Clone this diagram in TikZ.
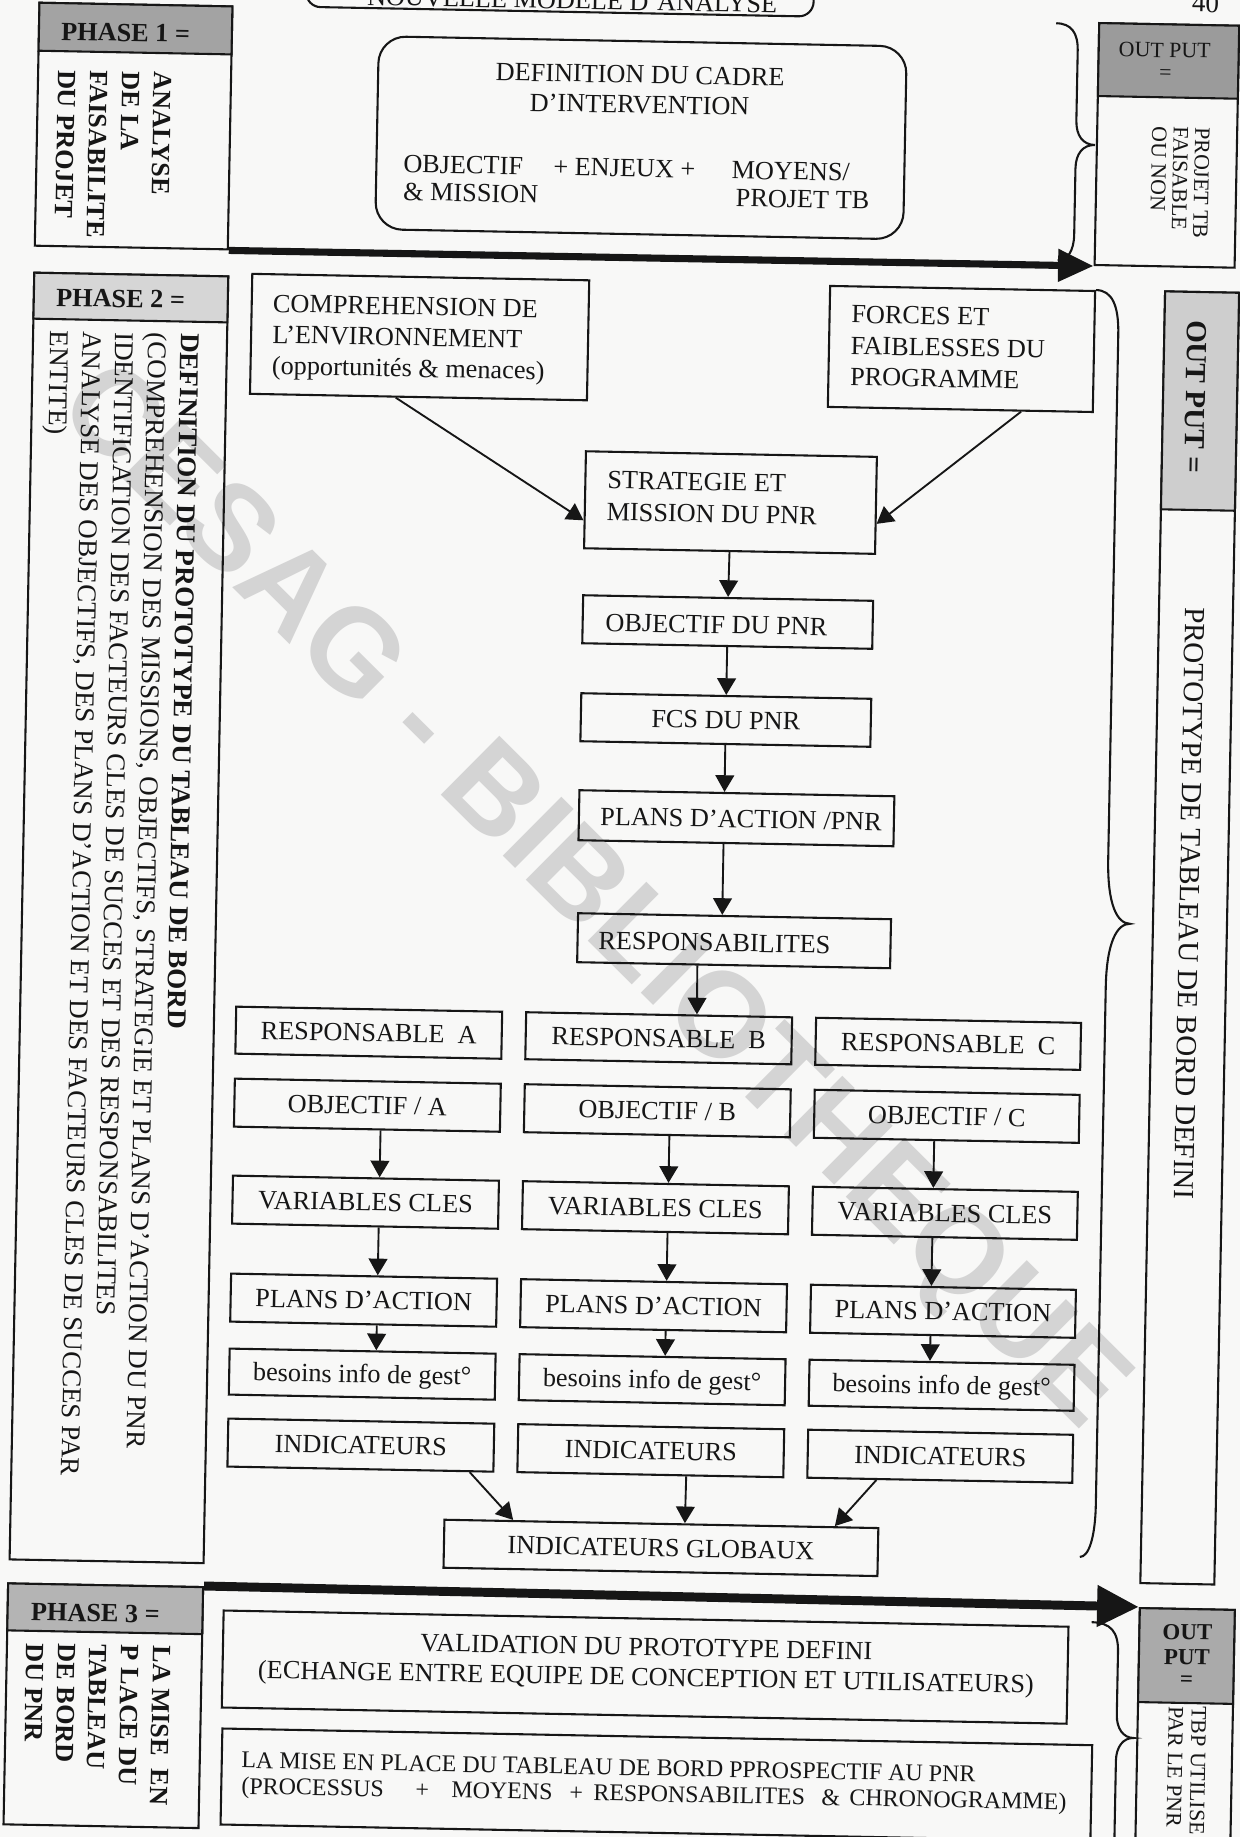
\documentclass[tikz,border=0pt]{standalone}
\usepackage{fontspec}
\setmainfont{Liberation Serif}
\newfontfamily\wmfont{Liberation Sans}
\usetikzlibrary{arrows.meta,calc}

\definecolor{paper}{RGB}{248,248,247}
\definecolor{ink}{RGB}{22,22,22}
\definecolor{hdone}{RGB}{163,163,163}
\definecolor{outone}{RGB}{155,155,155}
\definecolor{hdtwo}{RGB}{214,214,214}
\definecolor{outtwo}{RGB}{206,206,206}
\definecolor{hdthree}{RGB}{180,180,180}
\definecolor{outthree}{RGB}{170,170,170}
\definecolor{wmgray}{RGB}{212,212,212}

\newcommand\fs{\fontsize{12.6}{15}\selectfont}
\newcommand\fsc{\fontsize{13}{15}\selectfont}
\newcommand\fsm{\fontsize{11.5}{14}\selectfont}
\newcommand\fss{\fontsize{10.5}{12}\selectfont}
\newcommand\fsl{\fontsize{14}{16}\selectfont}

% box node given by its corners: [options]{name}{x1}{y1}{x2}{y2}{text}
\newcommand\cbox[7][]{%
  \node[frame,#1,minimum width={(#5-#3)*0.48pt},minimum height={(#6-#4)*0.48pt}]
    (#2) at ({(#3+#5)/2},{(#4+#6)/2}) {#7};}

\begin{document}
\begin{tikzpicture}[x=0.48pt,y=-0.48pt,
  frame/.style={draw=ink,line width=1pt,inner sep=0pt,font=\fs,text=ink,
                text height=8.3pt,text depth=0pt},
  txt/.style={inner sep=0pt,font=\fs,text=ink},
  vtxt/.style={txt,rotate=-90,anchor=base west},
  arr/.style={draw=ink,line width=0.9pt,-{Triangle[length=8pt,width=9pt]}},
  phaseone/.style={draw=ink,line width=3.4pt,-{Triangle[length=17pt,width=15pt]}},
  phasethree/.style={draw=ink,line width=4.3pt,-{Triangle[length=20pt,width=19pt]}},
  brace/.style={draw=ink,line width=1pt}]

\useasboundingbox (0,0) rectangle (1240,1837);
\fill[paper] (0,0) rectangle (1240,1837);
\clip (0,0) rectangle (1240,1837);

% library stamp across the page
\node[inner sep=0pt,font=\wmfont\bfseries\fontsize{58}{60}\selectfont,text=wmgray,rotate=-44.8]
  (stamp) at (590,900) {CESAG - BIBLIOTHEQUE};

\begin{scope}[rotate around={-1.1:(620,918)},transform shape]

% page head
\draw[ink,line width=1pt,rounded corners=7pt] (288.5,-60) -- (288.5,13) -- (796,13) -- (796,-60);
\node[txt,anchor=base east] (headline) at (760,10) {NOUVELLE MODELE D’ANALYSE};
\node[txt,anchor=base,font=\fontsize{13}{15}\selectfont] (folio) at (1188,1) {40};

% ---------------- phase 1
\cbox{p1}{22}{14}{215}{257}{}
\cbox[fill=hdone]{p1h}{22}{14}{215}{62}{}
\node[txt,anchor=base west,font=\fs\bfseries] (p1t) at (44,51) {PHASE 1 =};
\foreach \t [count=\i] in {ANALYSE,DE LA,FAISABILITE,DU PROJET}
  \node[vtxt,font=\fs\bfseries] (p1l\i) at ({138.2-(\i-1)*32},80.5) {\t};

\cbox[rounded corners=13pt]{def}{362}{41}{890}{234}{}
\node[txt,anchor=base] (def1) at (624,83) {DEFINITION DU CADRE};
\node[txt,anchor=base] (def2) at (624,113) {D’INTERVENTION};
\node[txt,anchor=base west] (def3) at (388.6,176.6) {OBJECTIF};
\node[txt,anchor=base west] (def4) at (538.6,176.6) {+ ENJEUX +};
\node[txt,anchor=base west] (def5) at (717,176.6) {MOYENS/};
\node[txt,anchor=base west] (def6) at (389,204.6) {\& MISSION};
\node[txt,anchor=base west] (def7) at (721.6,204.6) {PROJET TB};

\cbox{o1}{1082}{14}{1222}{256}{}
\cbox[fill=outone]{o1h}{1082}{14}{1222}{87}{}
\node[txt,anchor=base,font=\fss] (o1t) at (1148,47) {OUT PUT};
\node[txt,font=\fss] (o1e) at (1149,64) {=};
\foreach \t [count=\i] in {PROJET TB,FAISABLE,OU NON}
  \node[vtxt,font=\fss] (o1l\i) at ({1180-(\i-1)*21.5},116) {\t};

\draw[phaseone] (p1.south east) -- (o1.south west);
\draw[brace] (1039,15) .. controls (1054,15) and (1061,24) .. (1061,42) -- (1061,112)
  .. controls (1061,127) and (1068,136) .. (1080,136)
  .. controls (1068,136) and (1061,145) .. (1061,160) -- (1061,226)
  .. controls (1061,242) and (1055,252) .. (1045,252);

% ---------------- phase 2
\cbox{p2}{22}{284}{216}{1571}{}
\cbox[fill=hdtwo]{p2h}{22}{284}{216}{330}{}
\node[txt,anchor=base west,font=\fs\bfseries] (p2t) at (44,317) {PHASE 2 =};
\node[vtxt,font=\fsc\bfseries] (p2l1) at (170,341.4) {DEFINITION DU PROTOTYPE DU TABLEAU DE BORD};
\foreach \t [count=\i from 2] in
  {{(COMPREHENSION DES MISSIONS, OBJECTIFS, STRATEGIE ET PLANS D’ACTION DU PNR},
   {IDENTIFICATION DES FACTEURS CLES DE SUCCES ET DES RESPONSABILITES},
   {ANALYSE DES OBJECTIFS, DES PLANS D’ACTION ET DES FACTEURS CLES DE SUCCES PAR},
   {ENTITE)}}
  \node[vtxt,font=\fsc] (p2l\i) at ({170-(\i-1)*32.6},341.4) {\t};

\cbox{comp}{240}{281}{577}{401}{}
\node[txt,anchor=base west] (comp1) at (261,319) {COMPREHENSION DE};
\node[txt,anchor=base west] (comp2) at (261,350) {L’ENVIRONNEMENT};
\node[txt,anchor=base west] (comp3) at (261,381) {(opportunités \& menaces)};

\cbox{forces}{818}{282}{1083}{403}{}
\node[txt,anchor=base west] (forces1) at (839.4,318.5) {FORCES ET};
\node[txt,anchor=base west] (forces2) at (839.4,350) {FAIBLESSES DU};
\node[txt,anchor=base west] (forces3) at (839.4,381) {PROGRAMME};

\cbox{strat}{577}{452}{868}{549}{}
\node[txt,anchor=base west] (strat1) at (598.6,488.8) {STRATEGIE ET};
\node[txt,anchor=base west] (strat2) at (598.6,520.8) {MISSION DU PNR};

\cbox{obj}{577}{596}{867}{644}{}
\node[txt,anchor=base west] (obj1) at (599.5,631.5) {OBJECTIF DU PNR};
\cbox{fcs}{577}{694}{867}{742}{FCS DU PNR}
\cbox{plans}{577}{791}{892}{841}{}
\node[txt,anchor=base west] (plans1) at (598,825.4) {PLANS D’ACTION /PNR};
\cbox{resp}{578}{914}{891}{963}{}
\node[txt,anchor=base west] (resp1) at (598.5,949.4) {RESPONSABILITES};

\foreach \c/\xa/\xb/\l in {a/238/504/A,b/528/794/B,c/818/1083/C} {
  \cbox{r\c}{\xa}{1014}{\xb}{1061}{RESPONSABLE\ \ \l}
  \cbox{o\c}{\xa}{1086}{\xb}{1134}{OBJECTIF / \l}
  \cbox{v\c}{\xa}{1183}{\xb}{1231}{VARIABLES CLES}
  \cbox{pl\c}{\xa}{1281}{\xb}{1329}{PLANS D’ACTION}
  \cbox{be\c}{\xa}{1356}{\xb}{1402}{besoins info de gest°}
  \cbox{in\c}{\xa}{1426}{\xb}{1474}{INDICATEURS}
}
\cbox{glob}{456}{1523}{890}{1571}{INDICATEURS GLOBAUX}

% connectors
\draw[arr] ($(comp.south west)!0.433!(comp.south east)$) -- ($(strat.north west)!0.708!(strat.south west)$);
\draw[arr] ($(forces.south west)!0.728!(forces.south east)$) -- ($(strat.north east)!0.687!(strat.south east)$);
\draw[arr] (strat.south) -- (obj.north);
\draw[arr] (obj.south) -- (fcs.north);
\draw[arr] (fcs.south) -- ($(plans.north west)!0.461!(plans.north east)$);
\draw[arr] ($(plans.south west)!0.461!(plans.south east)$) -- ($(resp.north west)!0.461!(resp.north east)$);
\draw[arr] ($(resp.south west)!0.385!(resp.south east)$) -- ($(rb.north west)!0.641!(rb.north east)$);
\foreach \c/\f in {a/0.551,b/0.547,c/0.455} {
  \draw[arr] ($(o\c.south west)!\f!(o\c.south east)$) -- ($(v\c.north west)!\f!(v\c.north east)$);
  \draw[arr] ($(v\c.south west)!\f!(v\c.south east)$) -- ($(pl\c.north west)!\f!(pl\c.north east)$);
  \draw[arr] ($(pl\c.south west)!\f!(pl\c.south east)$) -- ($(be\c.north west)!\f!(be\c.north east)$);
}
\draw[arr] ($(ina.south west)!0.908!(ina.south east)$) -- ($(glob.north west)!0.160!(glob.north east)$);
\draw[arr] ($(inb.south west)!0.634!(inb.south east)$) -- ($(glob.north west)!0.554!(glob.north east)$);
\draw[arr] ($(inc.south west)!0.263!(inc.south east)$) -- ($(glob.north west)!0.898!(glob.north east)$);

\draw[brace] (1084,281) .. controls (1100,281) and (1107,296) .. (1107,325) -- (1107,850)
  .. controls (1107,895) and (1117,914) .. (1130,914)
  .. controls (1117,914) and (1107,933) .. (1107,978) -- (1107,1495)
  .. controls (1107,1528) and (1101,1548) .. (1092,1548);

\cbox{o2}{1153}{281}{1227}{1573}{}
\cbox[fill=outtwo]{o2h}{1153}{281}{1227}{499}{}
\node[vtxt,font=\fsl\bfseries] (o2t) at (1176,309) {OUT PUT =};
\node[vtxt,font=\fsl] (o2b) at (1179.5,596) {PROTOTYPE DE TABLEAU DE BORD DEFINI};

% ---------------- phase 3
\cbox{p3}{21}{1595}{216}{1836}{}
\cbox[fill=hdthree]{p3h}{21}{1595}{216}{1642}{}
\node[txt,anchor=base west,font=\fs\bfseries] (p3t) at (44,1631.6) {PHASE 3 =};
\foreach \t [count=\i] in {LA MISE\ \ EN,P LACE DU,TABLEAU,DE BORD,DU PNR}
  \node[vtxt,font=\fs\bfseries] (p3l\i) at ({167.4-(\i-1)*31.7},1654) {\t};

\cbox{o3}{1153}{1598}{1248}{1900}{}
\cbox[fill=outthree]{o3h}{1153}{1598}{1248}{1692}{}
\node[txt,anchor=base,font=\fontsize{11}{13}\selectfont\bfseries] (o3t1) at (1201,1628.6) {OUT};
\node[txt,anchor=base,font=\fontsize{11}{13}\selectfont\bfseries] (o3t2) at (1201,1653.6) {PUT};
\node[txt,font=\fontsize{11}{13}\selectfont\bfseries] (o3t3) at (1201,1670) {=};
\foreach \t [count=\i] in {TBP UTILISE,PAR LE PNR}
  \node[vtxt,font=\fss] (o3l\i) at ({1207-(\i-1)*23},1695) {\t};

\draw[phasethree] (p3.north east) -- (o3.north west);

\cbox{valid}{237}{1618}{1082}{1715}{}
\node[txt,anchor=base] (valid1) at (660.5,1655) {VALIDATION DU PROTOTYPE DEFINI};
\node[txt,anchor=base] (valid2) at (660.5,1685) {(ECHANGE ENTRE EQUIPE DE CONCEPTION ET UTILISATEURS)};

\cbox{mise}{238}{1736}{1108}{1832}{}
\node[txt,anchor=base west,font=\fsm] (mise1) at (257.3,1775) {LA MISE EN PLACE DU TABLEAU DE BORD PPROSPECTIF AU PNR};
\node[txt,anchor=base west,font=\fsm] (mise2) at (257.8,1801) {(PROCESSUS};
\node[txt,anchor=base west,font=\fsm] (mise3) at (431.8,1801) {+};
\node[txt,anchor=base west,font=\fsm] (mise4) at (467.8,1801) {MOYENS};
\node[txt,anchor=base west,font=\fsm] (mise5) at (585.8,1801) {+};
\node[txt,anchor=base west,font=\fsm] (mise6) at (609.8,1801) {RESPONSABILITES};
\node[txt,anchor=base west,font=\fsm] (mise7) at (838,1801) {\&};
\node[txt,anchor=base west,font=\fsm] (mise8) at (866,1801) {CHRONOGRAMME)};

\draw[brace] (1105,1613) .. controls (1124,1613) and (1132,1622) .. (1132,1642) -- (1132,1705)
  .. controls (1132,1719) and (1139,1728) .. (1149,1728)
  .. controls (1139,1728) and (1132,1737) .. (1132,1751) -- (1132,1870);

\end{scope}
\end{tikzpicture}
\end{document}
